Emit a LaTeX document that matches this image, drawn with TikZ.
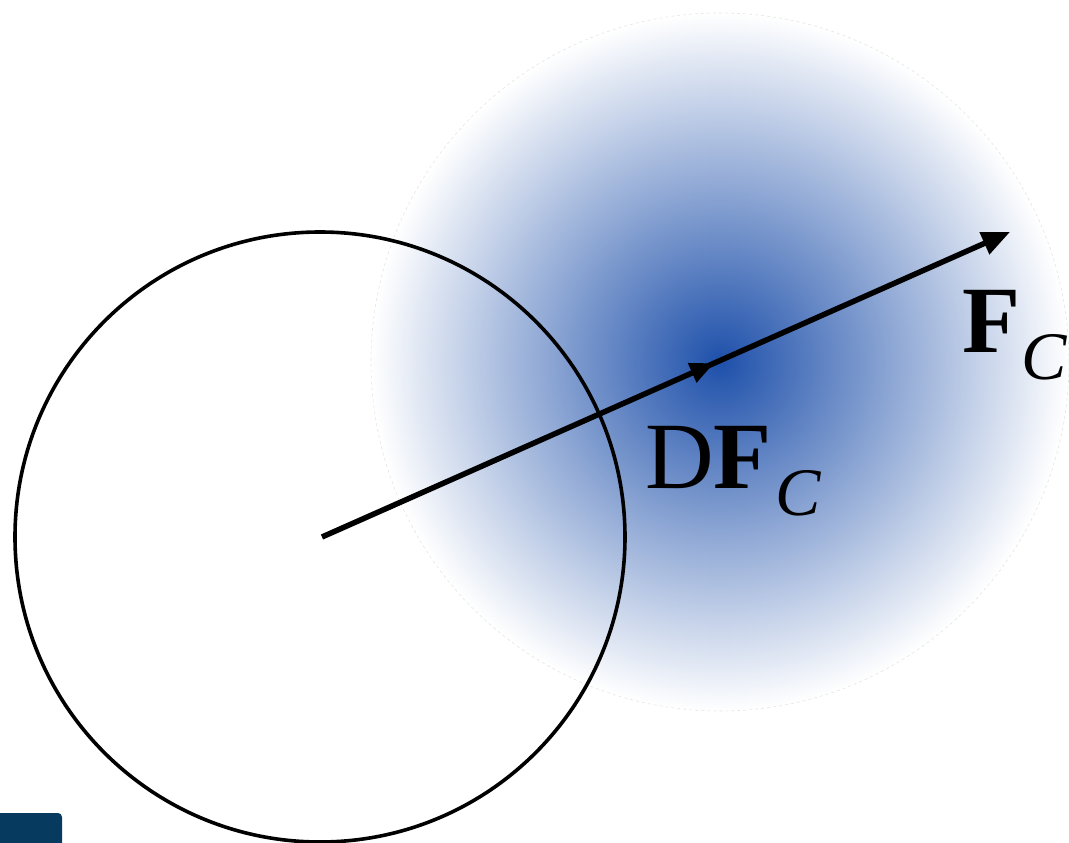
\documentclass[tikz,border=0pt]{standalone}
\usepackage{fontspec}
\setmainfont{Liberation Serif}
\usetikzlibrary{arrows.meta,decorations.markings}
\definecolor{glowc}{RGB}{30,80,170}
\definecolor{tabc}{RGB}{6,58,94}
\pgfdeclareradialshading{glow}{\pgfpoint{0bp}{0bp}}{color(0bp)=(glowc); color(25bp)=(white); color(50bp)=(white)}
\tikzset{
  ring/.style={draw=black, line width=3.6pt},
  force/.style={line width=5.5pt, -{Triangle[length=28pt,width=23pt]},
    postaction={decorate},
    decoration={markings, mark=at position 0.57 with {\arrow{Triangle[length=24pt,width=20pt]}}}},
  lbl/.style={inner sep=0pt, anchor=base west, font=\fontsize{95}{95}\selectfont}
}
\newcommand{\subC}{\raisebox{-27pt}{\fontsize{68}{68}\selectfont\itshape C}}
\begin{document}
\begin{tikzpicture}[x=1pt,y=-1pt]
\useasboundingbox (0,0) rectangle (1069,843);
% shaded glow
\path[shading=glow, draw=black!10, line width=0.6pt, dashed] (720,362) circle (349);
% circle
\node[circle, ring, minimum size=610pt, inner sep=0pt] (body) at (320,537) {};
% arrow
\coordinate (o) at (322,537);
\coordinate (tip) at (1010,232);
\draw[force] (o) -- (tip);
% labels
\node[lbl] (dfc) at (645,488) {D\textbf{F}\hspace{4pt}\subC};
\node[lbl] (fc) at (962,352) {\textbf{F}\hspace{1pt}\subC};
% corner tab
\fill[tabc] (0,843) -- (0,813) [rounded corners=4pt] -- (62,813) [sharp corners] -- (62,843) -- cycle;
\end{tikzpicture}
\end{document}
